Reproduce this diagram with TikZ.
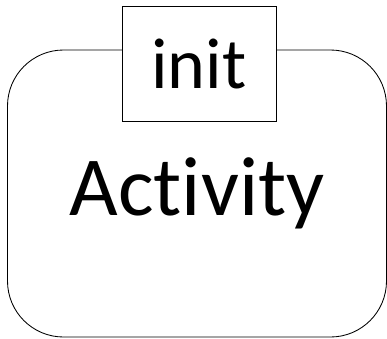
\documentclass[tikz,border=0pt]{standalone}
\usepackage{fontspec}
\setmainfont[Ligatures={NoCommon,NoContextual}]{Carlito}

\begin{document}
\begin{tikzpicture}[x=1pt,y=-1pt,line width=0.3mm]
  \useasboundingbox (0,0) rectangle (387,338);
  \node[draw,rounded corners=56pt,minimum width=379pt,minimum height=287pt,
        font=\fontsize{84}{90}\selectfont]                 (activity) at (197,193.5) {Activity};
  \node[draw,fill=white,minimum width=154pt,minimum height=115pt,
        font=\fontsize{72}{80}\selectfont]                 (init)     at (199,63.5)  {init};
\end{tikzpicture}
\end{document}
